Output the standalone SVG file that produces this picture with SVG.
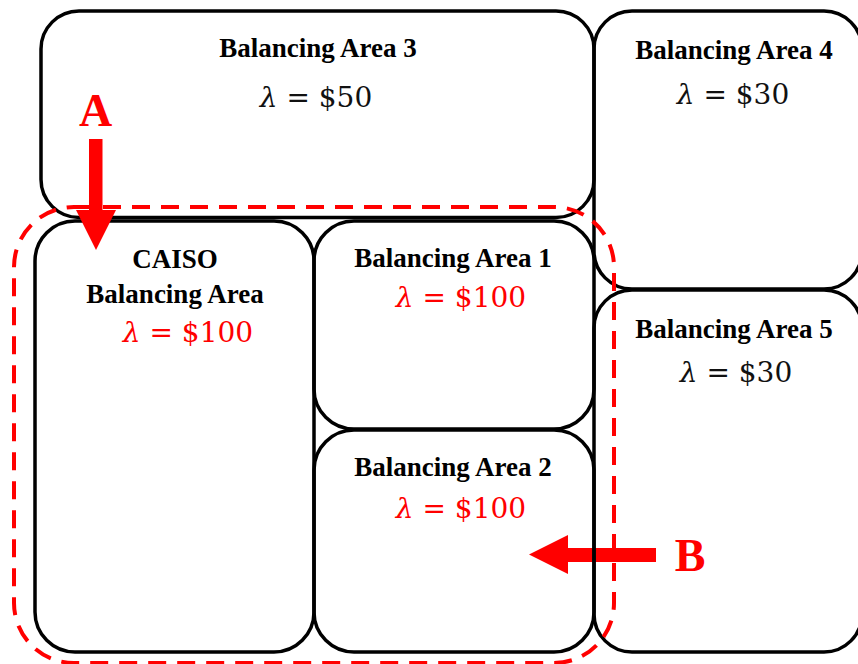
<svg xmlns="http://www.w3.org/2000/svg" width="858" height="664" viewBox="0 0 858 664">
<style>
.box{fill:none;stroke:#000;stroke-width:3.5}
.title{font-family:"Liberation Serif","Times New Roman",serif;font-weight:bold;font-size:27px;fill:#000;text-anchor:middle}
.math{font-family:"DejaVu Serif","Liberation Serif",serif;font-size:28px;fill:#111;text-anchor:middle}
.red{fill:#ff0000}
.lam{font-style:italic}
.lbl{font-family:"Liberation Serif","Times New Roman",serif;font-weight:bold;font-size:46px;fill:#ff0000;text-anchor:middle}
.arrow{fill:#ff0000;stroke:none}
</style>
<rect width="858" height="664" fill="#fff"/>
<g id="connectors-under">
  <rect class="arrow" x="568" y="548" width="88" height="14"/>
  <polygon class="arrow" points="568,535 568,574 529,554.5"/>
</g>
<g id="ba3">
  <rect class="box" x="41" y="11" width="553" height="206.5" rx="38"/>
  <text class="title" x="318" y="57">Balancing Area 3</text>
  <text class="math" x="316" y="107"><tspan class="lam">λ</tspan> = $50</text>
</g>
<g id="ba4">
  <rect class="box" x="594" y="11" width="268" height="278" rx="38"/>
  <text class="title" x="734" y="59">Balancing Area 4</text>
  <text class="math" x="733" y="104"><tspan class="lam">λ</tspan> = $30</text>
</g>
<g id="ba5">
  <rect class="box" x="594" y="290" width="268" height="362" rx="38"/>
  <text class="title" x="734" y="338">Balancing Area 5</text>
  <text class="math" x="736" y="382"><tspan class="lam">λ</tspan> = $30</text>
</g>
<g id="caiso">
  <rect class="box" x="35" y="221" width="279" height="431" rx="40"/>
  <text class="title" x="175" y="268">CAISO</text>
  <text class="title" x="175" y="303">Balancing Area</text>
  <text class="math red" x="188" y="342"><tspan class="lam">λ</tspan> = $100</text>
</g>
<g id="ba1">
  <rect class="box" x="314" y="221" width="280" height="208" rx="40"/>
  <text class="title" x="453" y="267">Balancing Area 1</text>
  <text class="math red" x="461" y="307"><tspan class="lam">λ</tspan> = $100</text>
</g>
<g id="ba2">
  <rect class="box" x="314" y="430" width="280" height="222" rx="40"/>
  <text class="title" x="453" y="476">Balancing Area 2</text>
  <text class="math red" x="461" y="518"><tspan class="lam">λ</tspan> = $100</text>
</g>
<g id="caiso-region">
  <rect x="14" y="207" width="600" height="456" rx="60" fill="none" stroke="#ff0000" stroke-width="4" stroke-dasharray="18 11"/>
</g>
<g id="connectors">
  <rect class="arrow" x="89" y="139" width="13.5" height="72"/>
  <polygon class="arrow" points="76,210 116,210 96,250"/>
  <text class="lbl" x="95.5" y="126">A</text>
  <text class="lbl" x="690" y="571">B</text>
</g>
</svg>
